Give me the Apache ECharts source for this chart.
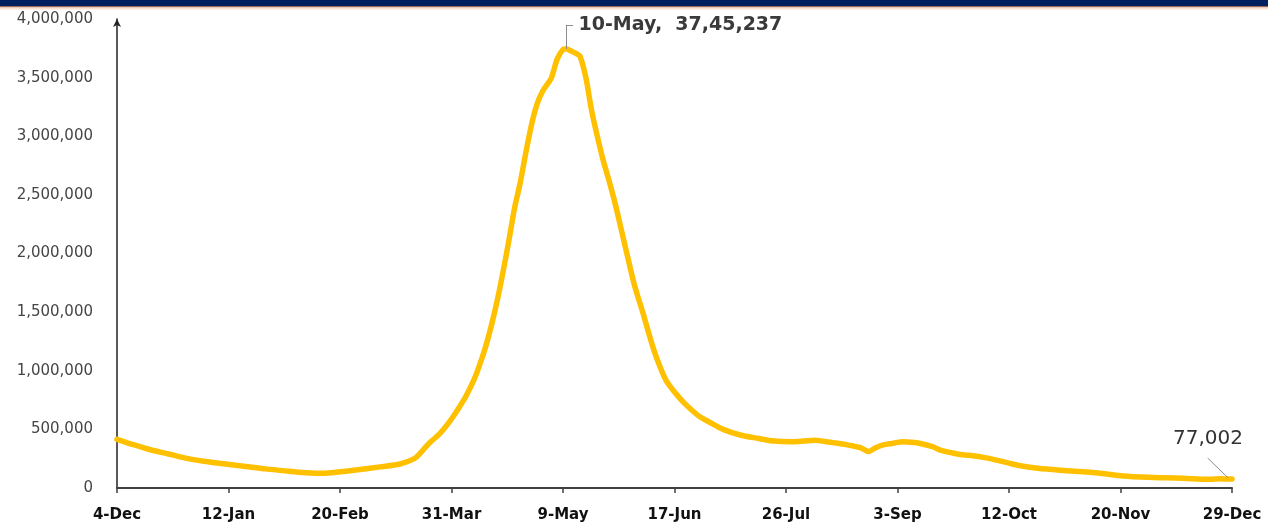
<!DOCTYPE html>
<html>
<head>
<meta charset="utf-8">
<script src="https://cdn.jsdelivr.net/npm/echarts@6/dist/echarts.min.js"></script>
<style>
  html, body { margin: 0; padding: 0; background: #ffffff; }
  #chart { width: 1268px; height: 529px; }
</style>
</head>
<body>
<div id="chart"></div>
<script>
// X tick labels (every 39 days starting 4-Dec-2020)
const tickLabels = ['4-Dec', '12-Jan', '20-Feb', '31-Mar', '9-May', '17-Jun', '26-Jul', '3-Sep', '12-Oct', '20-Nov', '29-Dec'];
const tickStep = 39;

const dayOffsets = [
  0, 6, 12, 18, 24, 31, 38, 45, 52, 59, 66, 72, 78, 85, 92, 99, 104, 106, 108, 110,
  113, 116, 118, 120, 122, 125, 127, 129, 131, 133, 135, 137, 139, 141, 143, 145, 147, 149, 151, 152,
  154, 156, 157, 159, 161, 162, 164, 166, 168, 170, 172, 174, 177, 179, 181, 184, 186, 188, 190, 192,
  194, 196, 198, 201, 204, 207, 212, 218, 224, 230, 236, 240, 244, 248, 251, 255, 258, 260, 263, 265,
  268, 271, 275, 278, 281, 285, 288, 292, 295, 298, 305, 312, 316, 322, 332, 338, 344, 352, 361, 367,
  373, 382, 386, 390
];
const activeCases = [
  415000, 367000, 324000, 290000, 255000, 226000, 205000, 184000, 163000, 146000, 131000, 125000, 138000, 158000, 180000, 205000, 250000, 295000, 350000, 400000,
  466000, 555000, 625000, 700000, 780000, 930000, 1060000, 1210000, 1390000, 1600000, 1840000, 2100000, 2380000, 2600000, 2860000, 3100000, 3280000, 3390000, 3460000, 3500000,
  3660000, 3740000, 3745237, 3725000, 3700000, 3680000, 3500000, 3220000, 3000000, 2800000, 2630000, 2450000, 2140000, 1930000, 1730000, 1490000, 1320000, 1160000, 1030000, 920000,
  850000, 790000, 735000, 665000, 605000, 565000, 500000, 452000, 424000, 400000, 395000, 400000, 408000, 395000, 385000, 370000, 355000, 345000, 312000, 340000,
  367000, 380000, 395000, 390000, 380000, 355000, 324000, 300000, 285000, 280000, 253000, 212000, 190000, 168000, 148000, 138000, 125000, 103000, 91000, 87000,
  83000, 75000, 78000, 77002
];

const peakText = '10-May,  37,45,237';
const endText = '77,002';

const seriesData = dayOffsets.map((d, i) => [d, activeCases[i]]);
let peakIdx = 0;
activeCases.forEach((v, i) => { if (v > activeCases[peakIdx]) peakIdx = i; });
const peakDay = dayOffsets[peakIdx], peakVal = activeCases[peakIdx];
const lastIdx = activeCases.length - 1;
const lastDay = dayOffsets[lastIdx], lastVal = activeCases[lastIdx];

const chart = echarts.init(document.getElementById('chart'), null, { renderer: 'canvas' });
chart.setOption({
  animation: false,
  backgroundColor: '#ffffff',
  graphic: [
    { type: 'rect', left: 0, top: 0, shape: { width: 1268, height: 6 }, style: { fill: '#002060' }, silent: true },
    { type: 'rect', left: 0, top: 6, shape: { width: 1268, height: 1.5 }, style: { fill: '#9c6a5c' }, silent: true },
    { type: 'rect', left: 0, top: 7.5, shape: { width: 1268, height: 2 }, style: { fill: '#fde2d4' }, silent: true }
  ],
  grid: { left: 117, right: 36, top: 19, bottom: 41 },
  xAxis: {
    type: 'value',
    min: 0,
    max: (tickLabels.length - 1) * tickStep,
    interval: tickStep,
    splitLine: { show: false },
    axisLine: { show: true, lineStyle: { color: '#404040', width: 2 } },
    axisTick: { show: true, length: 5, lineStyle: { color: '#404040', width: 1.5 } },
    axisLabel: {
      margin: 20,
      formatter: v => tickLabels[Math.round(v / tickStep)] || '',
      color: '#111111',
      fontFamily: 'DejaVu Sans',
      fontWeight: 'bold',
      fontSize: 15
    }
  },
  yAxis: {
    type: 'value',
    min: 0,
    max: 4000000,
    interval: 500000,
    splitLine: { show: false },
    axisLine: { show: true, symbol: ['none', 'arrow'], symbolSize: [6, 8], lineStyle: { color: '#222222', width: 1.5 } },
    axisTick: { show: false },
    axisLabel: {
      margin: 24,
      formatter: v => v.toLocaleString('en-US'),
      color: '#454545',
      fontFamily: 'DejaVu Sans',
      fontSize: 15
    }
  },
  series: [{
    type: 'line',
    data: seriesData,
    showSymbol: false,
    symbol: 'none',
    smooth: 0.3,
    lineStyle: { color: '#FFC000', width: 5.5, join: 'round', cap: 'round' },
    itemStyle: { color: '#FFC000' },
    silent: true,
    markLine: {
      silent: true,
      symbol: ['none', 'none'],
      label: { show: false },
      lineStyle: { color: '#8c8c8c', width: 1, type: 'solid' },
      emphasis: { disabled: true },
      data: [
        [{ coord: [peakDay, peakVal] }, { coord: [peakDay, 3950000] }],
        [{ coord: [peakDay, 3950000] }, { coord: [peakDay + 2.5, 3950000] }],
        [{ coord: [lastDay - 1.3, lastVal + 8000] }, { coord: [lastDay - 8.5, 255000] }]
      ]
    },
    markPoint: {
      silent: true,
      symbol: 'circle',
      symbolSize: 1,
      itemStyle: { color: 'rgba(0,0,0,0)' },
      data: [
        {
          coord: [peakDay + 2.5, 3950000],
          label: {
            show: true, formatter: peakText, position: 'right', distance: 5,
            color: '#3a3a3a', fontFamily: 'DejaVu Sans', fontWeight: 'bold', fontSize: 19
          }
        },
        {
          coord: [lastDay - 8.4, 418000],
          label: {
            show: true, formatter: endText, position: 'inside',
            color: '#333333', fontFamily: 'DejaVu Sans', fontSize: 20
          }
        }
      ]
    }
  }]
});
</script>
</body>
</html>
